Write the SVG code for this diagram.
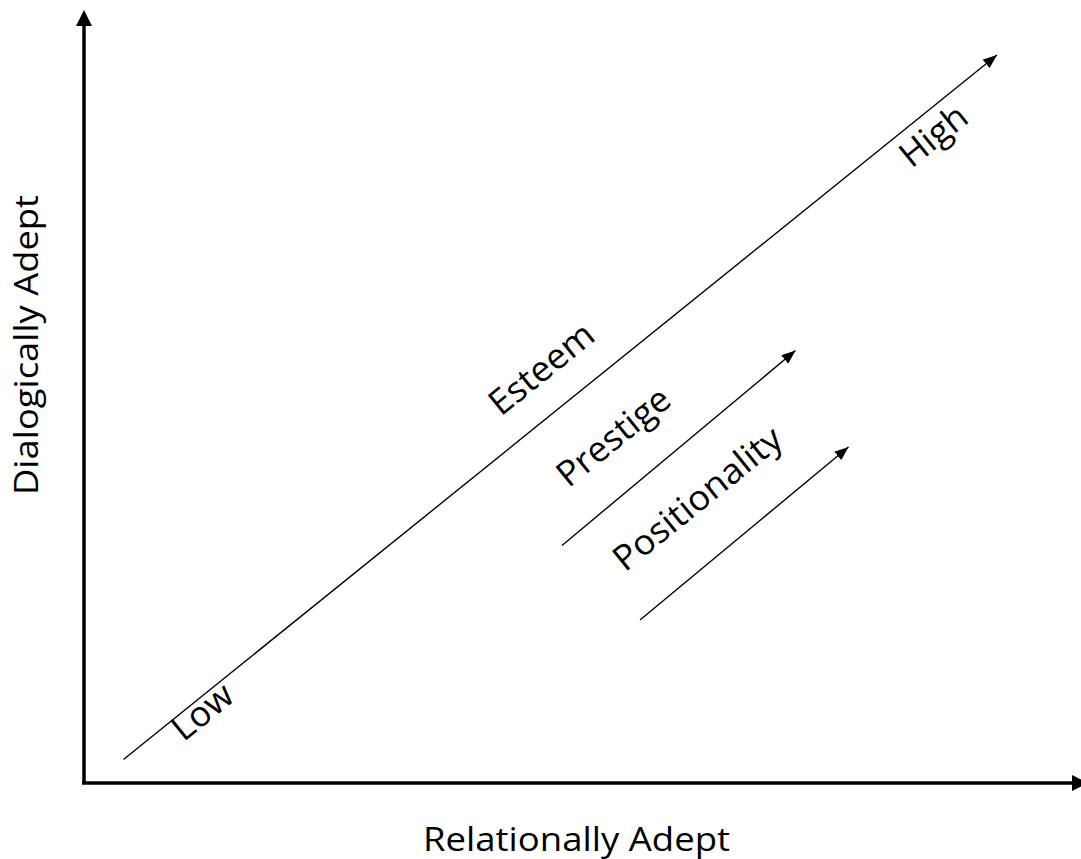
<svg xmlns="http://www.w3.org/2000/svg" width="1081" height="859" viewBox="0 0 1081 859">
<style>
text{font-family:"Open Sans","Liberation Sans",sans-serif;font-size:33px;fill:#000;text-anchor:middle}
.lbl{font-size:35px}
.axis{stroke:#000;stroke-width:3.5;fill:none}
.thin{stroke:#000;stroke-width:1.4;fill:none}
</style>
<defs>
<marker id="bigHead" markerUnits="userSpaceOnUse" viewBox="0 0 16 16" refX="0" refY="8" markerWidth="16" markerHeight="16" orient="auto">
<path d="M0,0 L16,8 L0,16 z" fill="#000"/>
</marker>
<marker id="smallHead" markerUnits="userSpaceOnUse" viewBox="0 0 14 11" refX="14" refY="5.5" markerWidth="14" markerHeight="11" orient="auto">
<path d="M0,0 L14,5.5 L0,11 z" fill="#000"/>
</marker>
</defs>
<rect width="1081" height="859" fill="#fff"/>
<g id="connectors">
<line class="axis" x1="84" y1="784" x2="84" y2="26" marker-end="url(#bigHead)"/>
<line class="axis" x1="82" y1="783" x2="1072" y2="783" marker-end="url(#bigHead)"/>
<line class="thin" x1="123.5" y1="759.5" x2="997" y2="55" marker-end="url(#smallHead)"/>
<line class="thin" x1="562" y1="545.5" x2="795.5" y2="350.5" marker-end="url(#smallHead)"/>
<line class="thin" x1="640" y1="620" x2="848.5" y2="447" marker-end="url(#smallHead)"/>
</g>
<g id="y-label"><text transform="translate(38,345) rotate(-90)" textLength="300" lengthAdjust="spacingAndGlyphs">Dialogically Adept</text></g>
<g id="x-label"><text x="576.5" y="851" textLength="307" lengthAdjust="spacingAndGlyphs">Relationally Adept</text></g>
<g id="low"><text class="lbl" transform="translate(210,721) rotate(-39)" textLength="68" lengthAdjust="spacingAndGlyphs">Low</text></g>
<g id="high"><text class="lbl" transform="translate(941,145) rotate(-39)" textLength="76" lengthAdjust="spacingAndGlyphs">High</text></g>
<g id="esteem"><text class="lbl" transform="translate(549,378) rotate(-39)" textLength="124" lengthAdjust="spacingAndGlyphs">Esteem</text></g>
<g id="prestige"><text class="lbl" transform="translate(621,446) rotate(-39)" textLength="135" lengthAdjust="spacingAndGlyphs">Prestige</text></g>
<g id="positionality"><text class="lbl" transform="translate(705,508) rotate(-39)" textLength="206" lengthAdjust="spacingAndGlyphs">Positionality</text></g>
</svg>
